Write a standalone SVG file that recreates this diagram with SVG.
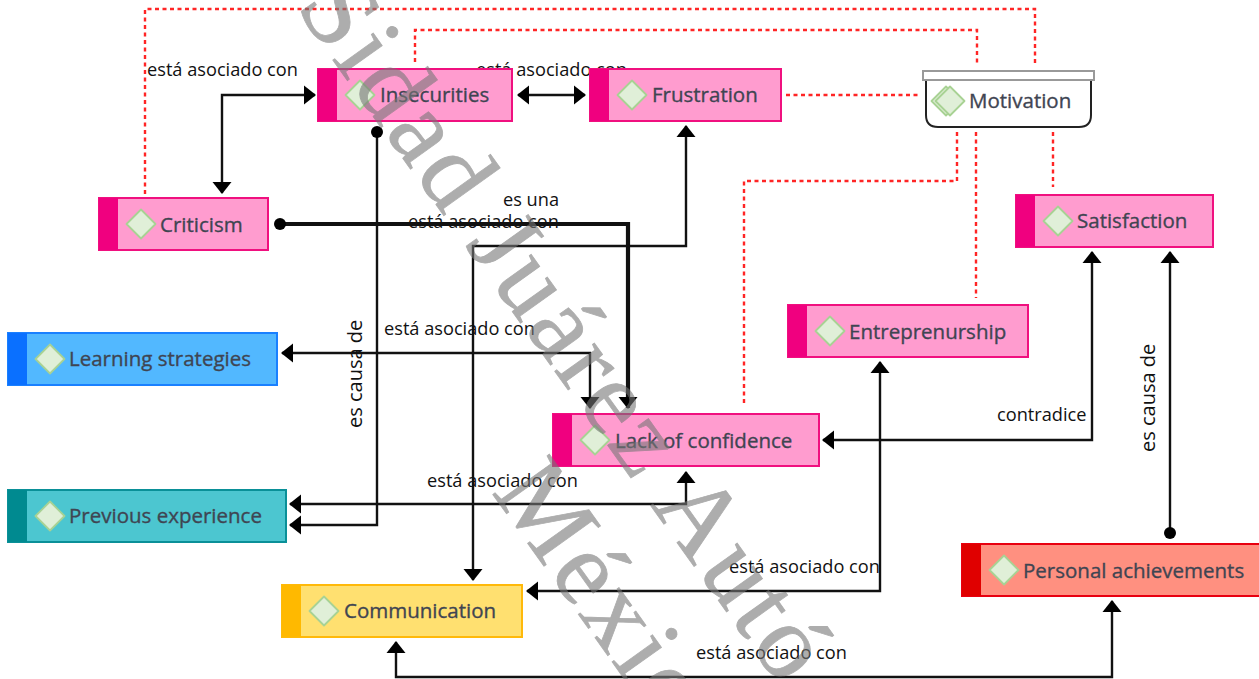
<svg xmlns="http://www.w3.org/2000/svg" width="1259" height="679" viewBox="0 0 1259 679">
<style>
.lbl{font-family:"Open Sans","Noto Sans",sans-serif;font-size:18.2px;fill:#111}
.rot{font-size:20px}
.nm{font-family:"Open Sans","Noto Sans",sans-serif;font-size:20.5px;fill:#3f4552;stroke:#3f4552;stroke-width:.35}
.c{fill:none;stroke:#111;stroke-width:2.4}
.thick{stroke-width:4.2}
.d{fill:none;stroke:#ff2525;stroke-width:2.4;stroke-dasharray:4 3.500}
.dia{fill:#e0efd8;stroke:#a8d294;stroke-width:1.8}
.wm{font-family:"Liberation Serif",serif;font-size:106px;letter-spacing:4px;fill:#777;stroke:#777;stroke-width:.8;opacity:.6}
.pk{fill:#ff9ccf;stroke:#f0107f;stroke-width:2}.pks{fill:#f0007f}
.bl{fill:#52b8ff;stroke:#1a80ff;stroke-width:2}.bls{fill:#0a70ff}
.te{fill:#4cc6d0;stroke:#0a9098;stroke-width:2}.tes{fill:#008a90}
.ye{fill:#ffe070;stroke:#ffb90a;stroke-width:2}.yes{fill:#ffb900}
.re{fill:#ff9080;stroke:#e80010;stroke-width:2}.res{fill:#e00000}
</style>
<defs>
<marker id="a" markerUnits="userSpaceOnUse" markerWidth="14" markerHeight="20" refX="12" refY="10" orient="auto-start-reverse"><path d="M0 0.500L12 10L0 19.500Z" fill="#000" transform="translate(1 0)"/></marker>
<marker id="o" markerUnits="userSpaceOnUse" markerWidth="14" markerHeight="14" refX="7" refY="7"><circle cx="7" cy="7" r="6" fill="#000"/></marker>
<path id="dm" d="M0 -14.500L14.500 0L0 14.500L-14.500 0Z" stroke-linejoin="round"/>
</defs>
<g id="connectors">
<path class="d" d="M145 194V9H1035V66"/>
<path class="d" d="M415 62V30H977V66"/>
<path class="d" d="M786 95H918"/>
<path class="d" d="M957 132V181H744V406"/>
<path class="d" d="M976 132V298"/>
<path class="d" d="M1053 132V187"/>
<path class="c" marker-start="url(#a)" marker-end="url(#a)" d="M222 193V95H315"/>
<path class="c" marker-start="url(#a)" marker-end="url(#a)" d="M518 95H585"/>
<path class="c" marker-start="url(#o)" marker-end="url(#a)" d="M377 132V525H290"/>
<path class="c thick" marker-start="url(#o)" marker-end="url(#a)" d="M280 224H628V408"/>
<path class="c" marker-start="url(#a)" marker-end="url(#a)" d="M686 126V246H473V580"/>
<path class="c" marker-start="url(#a)" marker-end="url(#a)" d="M282 353H590V408"/>
<path class="c" marker-start="url(#a)" marker-end="url(#a)" d="M290 504H686V472"/>
<path class="c" marker-start="url(#a)" marker-end="url(#a)" d="M880 362V591H527"/>
<path class="c" marker-start="url(#a)" marker-end="url(#a)" d="M1092 252V440H823"/>
<path class="c" marker-start="url(#o)" marker-end="url(#a)" d="M1170 533V252"/>
<path class="c" marker-start="url(#a)" marker-end="url(#a)" d="M396 642V677H1112V601"/>
</g>
<g id="labels">
<text class="lbl" x="147" y="76">está asociado con</text>
<text class="lbl" x="476" y="76">está asociado con</text>
<text class="lbl" x="503" y="206">es una</text>
<text class="lbl" x="408" y="228">está asociado con</text>
<text class="lbl" x="384" y="335">está asociado con</text>
<text class="lbl" x="427" y="487">está asociado con</text>
<text class="lbl" x="729" y="573">está asociado con</text>
<text class="lbl" x="696" y="659">está asociado con</text>
<text class="lbl" x="997" y="421">contradice</text>
<text class="lbl rot" transform="translate(362 428) rotate(-90)">es causa de</text>
<text class="lbl rot" transform="translate(1155 452) rotate(-90)">es causa de</text>
</g>
<g id="n-insecurities"><rect class="pk" x="318" y="69" width="194" height="52"/><rect class="pks" x="318" y="69" width="19" height="52"/><use href="#dm" class="dia" x="360" y="95"/><text class="nm" x="380" y="102">Insecurities</text></g>
<g id="n-frustration"><rect class="pk" x="590" y="69" width="191" height="52"/><rect class="pks" x="590" y="69" width="19" height="52"/><use href="#dm" class="dia" x="632" y="95"/><text class="nm" x="652" y="102">Frustration</text></g>
<g id="n-criticism"><rect class="pk" x="99" y="198" width="169" height="52"/><rect class="pks" x="99" y="198" width="19" height="52"/><use href="#dm" class="dia" x="141" y="224"/><text class="nm" x="160" y="232">Criticism</text></g>
<g id="n-satisfaction"><rect class="pk" x="1016" y="195" width="197" height="52"/><rect class="pks" x="1016" y="195" width="19" height="52"/><use href="#dm" class="dia" x="1058" y="221"/><text class="nm" x="1077" y="228">Satisfaction</text></g>
<g id="n-entrepreneurship"><rect class="pk" x="788" y="305" width="240" height="52"/><rect class="pks" x="788" y="305" width="19" height="52"/><use href="#dm" class="dia" x="830" y="331"/><text class="nm" x="849" y="339">Entreprenurship</text></g>
<g id="n-lack"><rect class="pk" x="553" y="414" width="266" height="52"/><rect class="pks" x="553" y="414" width="19" height="52"/><use href="#dm" class="dia" x="595" y="440"/><text class="nm" x="615" y="448">Lack of confidence</text></g>
<g id="n-learning"><rect class="bl" x="8" y="333" width="269" height="52"/><rect class="bls" x="8" y="333" width="19" height="52"/><use href="#dm" class="dia" x="50" y="359"/><text class="nm" x="69" y="366">Learning strategies</text></g>
<g id="n-previous"><rect class="te" x="8" y="490" width="278" height="52"/><rect class="tes" x="8" y="490" width="19" height="52"/><use href="#dm" class="dia" x="50" y="516"/><text class="nm" x="69" y="523">Previous experience</text></g>
<g id="n-communication"><rect class="ye" x="282" y="585" width="240" height="52"/><rect class="yes" x="282" y="585" width="19" height="52"/><use href="#dm" class="dia" x="324" y="611"/><text class="nm" x="344" y="618">Communication</text></g>
<g id="n-personal"><rect class="re" x="962" y="544" width="300" height="52"/><rect class="res" x="962" y="544" width="19" height="52"/><use href="#dm" class="dia" x="1004" y="570"/><text class="nm" x="1023" y="578">Personal achievements</text></g>
<g id="n-motivation"><path d="M926 78V115Q926 127 938 127H1079Q1091 127 1091 115V78Z" fill="#fff" stroke="#222" stroke-width="2"/><rect x="923" y="71" width="171" height="9" fill="#fff" stroke="#999" stroke-width="2"/><use href="#dm" class="dia" x="946" y="101"/><use href="#dm" class="dia" x="950" y="101"/><text class="nm" x="969" y="108">Motivation</text></g>
<g id="watermark">
<text class="wm" transform="translate(295 7) rotate(54.500)">Sidad Juárez Autó</text>
<text class="wm" transform="translate(491 492) rotate(54.500)">México</text>
</g>
</svg>
